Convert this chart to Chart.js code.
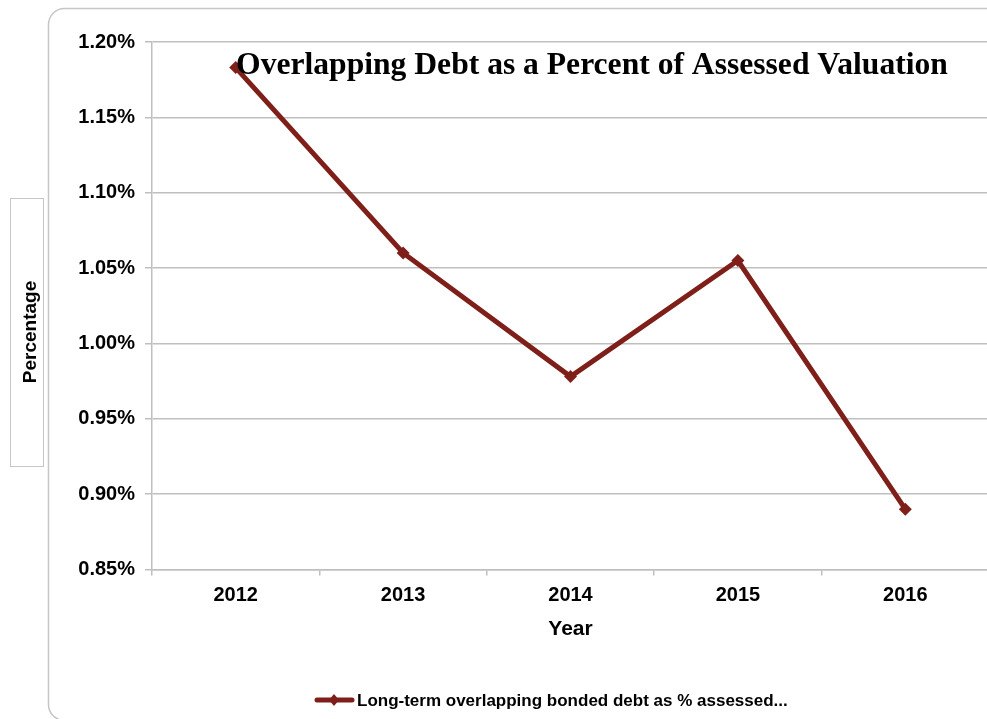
<!DOCTYPE html>
<html>
<head>
<meta charset="utf-8">
<script src="https://cdn.jsdelivr.net/npm/chart.js@4/dist/chart.umd.min.js"></script>
<style>
  html, body { margin: 0; padding: 0; background: #fff; overflow: hidden; }
  #wrap { position: relative; width: 1000px; height: 719px; }
</style>
</head>
<body>
<div id="wrap"><canvas id="debtChart"></canvas></div>
<script>
// chart data
const years = ['2012', '2013', '2014', '2015', '2016'];
const debtPct = [1.183, 1.060, 0.978, 1.055, 0.890];
const seriesLabel = 'Long-term overlapping bonded debt as % assessed...';
const chartTitle = 'Overlapping Debt as a Percent of Assessed Valuation';
const yTitle = 'Percentage';
const xTitle = 'Year';

const lineColor = '#7f1f1a';
const gridColor = '#bfbfbf';
const sans = '"Liberation Sans", Arial, sans-serif';
const serif = '"Liberation Serif", "Times New Roman", serif';

// frame, boxed y title, chart title and legend drawn by hand
const decorations = {
    id: 'decorations',
    beforeDraw(chart) {
        const ctx = chart.ctx;
        ctx.save();
        ctx.strokeStyle = '#c6c6c6';
        ctx.lineWidth = 1.5;
        ctx.beginPath();
        ctx.roundRect(48.5, 8.5, 960, 712, 16);
        ctx.stroke();

        // y title box
        ctx.lineWidth = 1;
        ctx.strokeRect(10.5, 198.5, 33, 268);
        ctx.translate(31, 332);
        ctx.rotate(-Math.PI / 2);
        ctx.fillStyle = '#000';
        ctx.font = 'bold 19px ' + sans;
        ctx.textAlign = 'center';
        ctx.textBaseline = 'middle';
        ctx.fillText(yTitle, 0, 0);
        ctx.restore();
    },
    afterDatasetsDraw(chart) {
        const ctx = chart.ctx;
        ctx.save();
        ctx.fillStyle = '#000';
        // size the title so it spans the same width as the original
        ctx.font = 'bold 28px ' + serif;
        const w = ctx.measureText(chartTitle).width;
        const size = Math.min(34, 28 * 711 / w);
        ctx.font = 'bold ' + size.toFixed(1) + 'px ' + serif;
        ctx.textAlign = 'center';
        ctx.textBaseline = 'middle';
        ctx.fillText(chartTitle, 592, 66);

        // legend
        ctx.strokeStyle = lineColor;
        ctx.lineWidth = 5;
        ctx.lineCap = 'round';
        ctx.beginPath();
        ctx.moveTo(317, 700);
        ctx.lineTo(352, 700);
        ctx.stroke();
        ctx.fillStyle = lineColor;
        ctx.beginPath();
        ctx.moveTo(334, 694);
        ctx.lineTo(339, 700);
        ctx.lineTo(334, 706);
        ctx.lineTo(329, 700);
        ctx.closePath();
        ctx.fill();
        ctx.fillStyle = '#000';
        ctx.font = 'bold 17px ' + sans;
        ctx.textAlign = 'left';
        ctx.fillText(seriesLabel, 357, 701);
        ctx.restore();
    }
};

new Chart(document.getElementById('debtChart'), {
    type: 'line',
    data: {
        labels: years,
        datasets: [{
            label: seriesLabel,
            data: debtPct,
            borderColor: lineColor,
            backgroundColor: lineColor,
            borderWidth: 5,
            tension: 0,
            pointStyle: 'rectRot',
            pointRadius: 6.5,
            pointBackgroundColor: lineColor,
            pointBorderColor: lineColor,
            pointBorderWidth: 0
        }]
    },
    options: {
        responsive: true,
        maintainAspectRatio: false,
        animation: false,
        layout: {
            padding: { top: 42, left: 0, right: 11, bottom: 0 }
        },
        plugins: {
            legend: { display: false },
            tooltip: { enabled: false }
        },
        scales: {
            y: {
                min: 0.85,
                max: 1.2,
                afterFit: function(scale) { scale.width = 152; },
                ticks: {
                    stepSize: 0.05,
                    padding: 10,
                    color: '#000',
                    font: { family: sans, size: 20, weight: 'bold' },
                    callback: function(value) {
                        return value.toFixed(2) + '%';
                    }
                },
                grid: {
                    color: gridColor,
                    lineWidth: 1.5,
                    tickLength: 7
                },
                border: { color: gridColor, width: 1.5 }
            },
            x: {
                offset: true,
                afterFit: function(scale) { scale.height = 149.5; },
                ticks: {
                    padding: 8,
                    color: '#000',
                    font: { family: sans, size: 20, weight: 'bold' }
                },
                grid: {
                    offset: true,
                    drawOnChartArea: false,
                    color: gridColor,
                    lineWidth: 1.5,
                    tickLength: 6
                },
                border: { color: gridColor, width: 1.5 },
                title: {
                    display: true,
                    text: xTitle,
                    color: '#000',
                    font: { family: sans, size: 21, weight: 'bold' },
                    padding: { top: 0, bottom: 77 }
                }
            }
        }
    },
    plugins: [decorations]
});
</script>
</body>
</html>
